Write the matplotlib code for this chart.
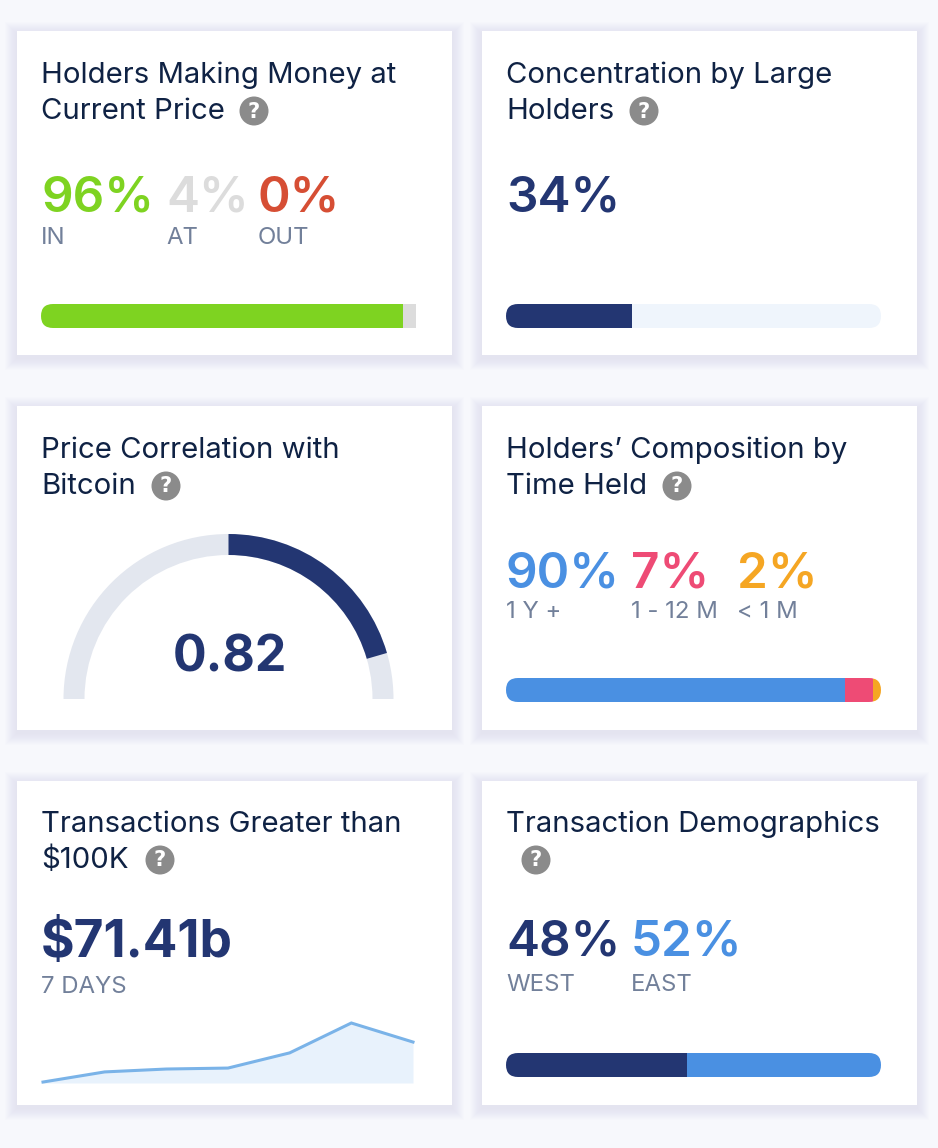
import numpy as np
import matplotlib
matplotlib.use('Agg')
import matplotlib.pyplot as plt
from matplotlib.patches import Rectangle, Circle, Wedge, FancyBboxPatch

W, H = 938, 1148

NAVY = '#233672'
BLUE = '#4a90e2'
TITLE = '#0f2244'
GREY = '#72809a'

money_labels = ['IN', 'AT', 'OUT']
money_text = ['96%', '4%', '0%']
money_bar = [96.5, 3.5, 0]
money_colors = ['#7ed321', '#dcdcdc', '#d64e34']

large_text = '34%'
large_bar = [33.6, 66.4]

correlation = 0.82

time_labels = ['1 Y +', '1 - 12 M', '< 1 M']
time_text = ['90%', '7%', '2%']
time_bar = [90.4, 7.5, 2.1]
time_colors = [BLUE, '#ee4b75', '#f5a623']

tx_text = '$71.41b'
tx_days = [1, 2, 3, 4, 5, 6, 7]
tx_values = [0.4, 4.6, 5.8, 6.2, 12.5, 24.9, 17.0]

demo_labels = ['WEST', 'EAST']
demo_text = ['48%', '52%']
demo_bar = [48.3, 51.7]
demo_colors = [NAVY, BLUE]

cards = [(17, 31), (482, 31), (17, 406), (482, 406), (17, 781), (482, 781)]
card_w, card_h = 435, 324


def px(size):
    # css pixels to points at dpi 100
    return size * 0.72


def text(ax, x, y, s, size, color, weight='normal', **kw):
    ax.text(x, y, s, fontsize=px(size), color=color, weight=weight,
            va='baseline', **kw)


def card(ax, x, y):
    # soft shadow, stacked rectangles
    for grow in range(12, 0, -1):
        ax.add_patch(Rectangle((x - grow, y - grow + 3), card_w + 2 * grow, card_h + 2 * grow,
                               fc='#6a6a9a', ec='none', alpha=0.006))
    ax.add_patch(Rectangle((x, y), card_w, card_h, fc='white', ec='none'))


def title(ax, x, y, lines, icon_x):
    for i, line in enumerate(lines):
        text(ax, x, y + i * 36, line, 29.3, TITLE)
    cy = y + (len(lines) - 1) * 36 - 8
    ax.add_patch(Circle((icon_x, cy), 14.5, fc='#8b8b8b', ec='none'))
    ax.text(icon_x, cy + 0.5, '?', fontsize=px(21), color='white', weight='bold',
            ha='center', va='center', family='DejaVu Sans')


def stat_row(ax, xs, y, texts, colors, labels, label_gap=33):
    for i in range(len(xs)):
        text(ax, xs[i], y, texts[i], 49.5, colors[i], weight='semibold')
        if labels:
            text(ax, xs[i], y + label_gap, labels[i], 24, GREY)


def bar(fig, x, y, values, colors, round_right=True, w=375, h=24):
    bax = fig.add_axes([x / W, 1 - (y + h) / H, w / W, h / H])
    bax.set_xlim(0, 100)
    bax.set_ylim(0, 1)
    bax.axis('off')
    patches = bax.barh(0.5, values, left=np.cumsum([0] + list(values[:-1])), height=1,
                       color=colors, linewidth=0)
    # clip in display coords so the corners stay circular
    shape_w = w if round_right else w + 30
    clip = FancyBboxPatch((x, H - y - h), shape_w, h,
                          boxstyle='round,pad=0,rounding_size=12',
                          transform=None, fc='none', ec='none')
    for p in patches:
        p.set_clip_path(clip)
    return bax


plt.rcParams['font.family'] = ['Inter', 'DejaVu Sans']

fig = plt.figure(figsize=(W / 100, H / 100), dpi=100, facecolor='#f7f8fc')
ax = fig.add_axes([0, 0, 1, 1])
ax.set_xlim(0, W)
ax.set_ylim(H, 0)
ax.axis('off')

for c in cards:
    card(ax, *c)

# card 1
title(ax, 41, 83, ['Holders Making Money at', 'Current Price'], 254)
stat_row(ax, [41, 166, 258], 211, money_text, money_colors, money_labels)
bar(fig, 41, 304, money_bar, money_colors, round_right=False)

# card 2
title(ax, 506, 83, ['Concentration by Large', 'Holders'], 644)
stat_row(ax, [506], 211, [large_text], [NAVY], None)
bar(fig, 506, 304, large_bar, [NAVY, '#eff5fc'])

# card 3, gauge runs from -1 on the left to +1 on the right
title(ax, 41, 458, ['Price Correlation with', 'Bitcoin'], 166)
gax = fig.add_axes([0, 0, 1, 1], facecolor='none')
gax.set_xlim(0, W)
gax.set_ylim(0, H)
gax.axis('off')
gx, gy = 228.5, H - 699
gax.add_patch(Wedge((gx, gy), 165, 0, 180, width=21, fc='#e3e7ef', ec='none'))
gax.add_patch(Wedge((gx, gy), 165, 90 - correlation * 90, 90, width=21, fc=NAVY, ec='none'))
ax.text(230, 671, '%.2f' % correlation, fontsize=px(50), color=NAVY, weight='bold',
        ha='center', va='baseline')

# card 4
title(ax, 506, 458, ['Holders\u2019 Composition by', 'Time Held'], 677)
stat_row(ax, [506, 631, 737], 587, time_text, time_colors, time_labels, label_gap=31)
bar(fig, 506, 678, time_bar, time_colors)

# card 5
title(ax, 41, 832, ['Transactions Greater than', '$100K'], 160)
text(ax, 41, 957, tx_text.replace('$', r'\$'), 51.4, NAVY, weight='bold')
text(ax, 41, 993, '7 DAYS', 24, GREY)
sax = fig.add_axes([43 / W, 1 - 1083 / H, 370 / W, 60 / H], facecolor='none')
sax.set_xlim(tx_days[0], tx_days[-1])
sax.set_ylim(0, max(tx_values))
sax.axis('off')
sax.fill_between(tx_days, tx_values, 0, color='#e8f2fc', linewidth=0)
sax.plot(tx_days, tx_values, color='#7ab3e8', lw=2.2, clip_on=False, solid_joinstyle='miter')

# card 6
title(ax, 506, 832, ['Transaction Demographics', ''], 536)
stat_row(ax, [506, 631], 955, demo_text, demo_colors, demo_labels, label_gap=36)
bar(fig, 506, 1053, demo_bar, demo_colors)

fig.savefig('out.png', dpi=100, facecolor=fig.get_facecolor())
